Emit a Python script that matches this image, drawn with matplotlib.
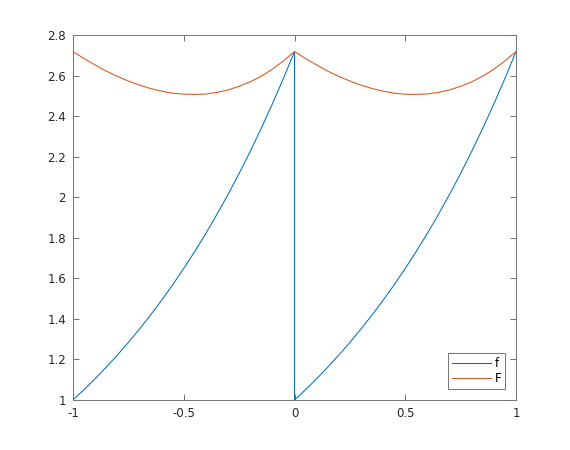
import matplotlib
matplotlib.use("Agg")
import matplotlib.pyplot as plt

# x positions (one period from -1 to 0, then 0 to 1)
x_left = [-1.00, -0.95, -0.90, -0.85, -0.80, -0.75, -0.70, -0.65, -0.60, -0.55, -0.50,
          -0.45, -0.40, -0.35, -0.30, -0.25, -0.20, -0.15, -0.10, -0.05, 0.00]
x_right = [0.00, 0.05, 0.10, 0.15, 0.20, 0.25, 0.30, 0.35, 0.40, 0.45, 0.50,
           0.55, 0.60, 0.65, 0.70, 0.75, 0.80, 0.85, 0.90, 0.95, 1.00]

# f values (same shape on each period)
f_period = [1.000, 1.051, 1.105, 1.162, 1.221, 1.284, 1.350, 1.419, 1.492, 1.568, 1.649,
            1.733, 1.822, 1.916, 2.014, 2.117, 2.226, 2.340, 2.460, 2.586, 2.718]
# F values
F_period = [2.718, 2.684, 2.652, 2.622, 2.596, 2.573, 2.553, 2.536, 2.523, 2.513, 2.508,
            2.507, 2.509, 2.517, 2.529, 2.547, 2.569, 2.597, 2.631, 2.672, 2.718]

x_all = x_left + x_right
f_all = f_period + f_period
F_all = F_period + F_period

yticks = [1, 1.2, 1.4, 1.6, 1.8, 2, 2.2, 2.4, 2.6, 2.8]
yticklabels = ["1", "1.2", "1.4", "1.6", "1.8", "2", "2.2", "2.4", "2.6", "2.8"]
xticks = [-1, -0.5, 0, 0.5, 1]
xticklabels = ["-1", "-0.5", "0", "0.5", "1"]

plt.rcParams['font.family'] = ['DejaVu Sans']
fig = plt.figure(figsize=(5.7, 4.5), dpi=100)
ax = fig.add_axes([73/570, 50/450, (516-73)/570, (400-35)/450])

ax.plot(x_all, f_all, color='#0072BD', lw=0.75, label='f')
ax.plot(x_all, F_all, color='#D95319', lw=0.75, label='F')

ax.set_xlim(-1, 1)
ax.set_ylim(1, 2.8)
ax.set_xticks(xticks)
ax.set_xticklabels(xticklabels)
ax.set_yticks(yticks)
ax.set_yticklabels(yticklabels)
ax.tick_params(direction='in', length=4, width=0.6, color='0.35',
               labelsize=8.5, labelcolor='0.15', top=True, right=True, pad=5)
for s in ax.spines.values():
    s.set_color('0.45')
    s.set_linewidth(0.7)

leg = ax.legend(loc='lower right', fontsize=8.5, fancybox=False, framealpha=1,
                edgecolor='0.45', handlelength=3.3, handletextpad=0.3,
                borderaxespad=0.9, borderpad=0.35, labelspacing=0.2)
leg.get_frame().set_linewidth(0.7)

fig.savefig('out.png', dpi=100)
